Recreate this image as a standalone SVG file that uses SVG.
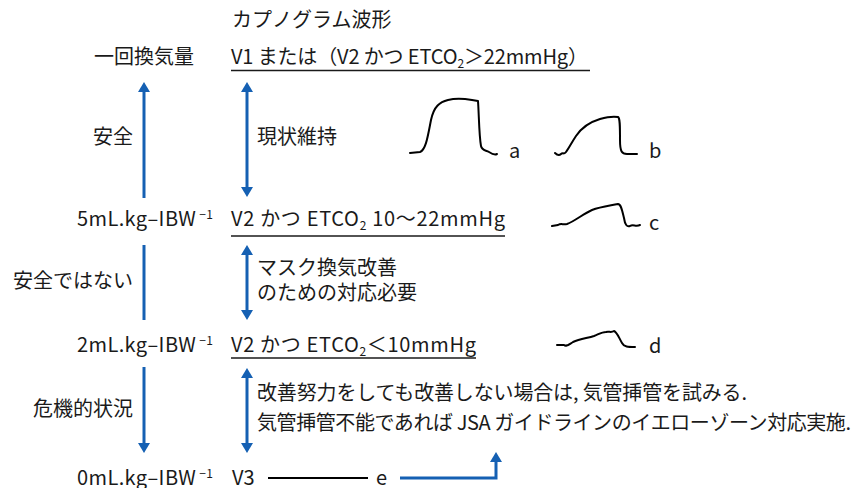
<svg xmlns="http://www.w3.org/2000/svg" width="858" height="488" viewBox="0 0 858 488">
<style>
text{font-family:"Noto Sans CJK JP","Noto Sans",sans-serif;font-size:20px;fill:#1a1a1a}
.r{text-anchor:end}
.m{text-anchor:middle}
.sub{font-size:12px}
.sup{font-size:12px}
.blue{stroke:#1560b3;stroke-width:3;fill:none}
.ul{stroke:#1a1a1a;stroke-width:1.5}
.wave{stroke:#000;stroke-width:2;fill:none;stroke-linejoin:round;stroke-linecap:round}
</style>
<defs>
<marker id="ah" viewBox="0 -6 10 12" refX="0" refY="0" markerWidth="10" markerHeight="12" markerUnits="userSpaceOnUse" orient="auto-start-reverse">
<path d="M0,-6 L10,0 L0,6 z" fill="#1560b3"/>
</marker>
</defs>
<g id="title"><text x="232" y="27">カプノグラム波形</text></g>
<g id="level-v1">
<text class="m" x="144" y="64">一回換気量</text>
<text x="231" y="64" textLength="357" lengthAdjust="spacing">V1 または（V2 かつ ETCO<tspan class="sub" dy="4">2</tspan><tspan dy="-4">＞22mmHg）</tspan></text>
<line class="ul" x1="231" y1="70.5" x2="590" y2="70.5"/>
</g>
<g id="zone-safe">
<text class="r" x="133" y="144">安全</text>
<text x="257" y="144">現状維持</text>
</g>
<g id="level-5">
<text class="r" x="213" y="226" textLength="136" lengthAdjust="spacing">5mL.kg–IBW<tspan class="sup" dx="3" dy="-7">−1</tspan></text>
<text x="231" y="226" textLength="274" lengthAdjust="spacing">V2 かつ ETCO<tspan class="sub" dy="4">2</tspan><tspan dy="-4"> 10〜22mmHg</tspan></text>
<line class="ul" x1="231" y1="236" x2="505" y2="236"/>
</g>
<g id="zone-unsafe">
<text class="r" x="133" y="288">安全ではない</text>
<text x="257" y="275">マスク換気改善</text>
<text x="257" y="300">のための対応必要</text>
</g>
<g id="level-2">
<text class="r" x="213" y="352" textLength="136" lengthAdjust="spacing">2mL.kg–IBW<tspan class="sup" dx="3" dy="-7">−1</tspan></text>
<text x="231" y="352" textLength="245" lengthAdjust="spacing">V2 かつ ETCO<tspan class="sub" dy="4">2</tspan><tspan dy="-4">＜10mmHg</tspan></text>
<line class="ul" x1="231" y1="358" x2="476" y2="358"/>
</g>
<g id="zone-crisis">
<text class="r" x="133" y="416">危機的状況</text>
<text x="257" y="400" textLength="490" lengthAdjust="spacing">改善努力をしても改善しない場合は, 気管挿管を試みる.</text>
<text x="257" y="430" textLength="594" lengthAdjust="spacing">気管挿管不能であれば JSA ガイドラインのイエローゾーン対応実施.</text>
</g>
<g id="level-0">
<text class="r" x="213" y="485" textLength="136" lengthAdjust="spacing">0mL.kg–IBW<tspan class="sup" dx="3" dy="-7">−1</tspan></text>
<text x="232" y="485">V3</text>
<text x="376" y="485">e</text>
</g>
<g id="waveforms">
<path class="wave" d="M410,153 L420,152 C426,150 428,135 431,120 C434,106 440,102 448,100 C456,98 466,99 472,100 L478,101 C479,115 479,135 481,146 C482,151 486,150 489,152 C492,154 495,155 497,154"/>
<text x="509" y="158">a</text>
<path class="wave" d="M555,153 C557,155 559,156 561,154 C563,152 564,155 566,152 C569,148 572,142 576,136 C582,127 590,122 600,119 C607,117 613,116 618,117 C620,118 620,125 620,140 C620,152 622,154 627,154 L637,154"/>
<text x="649" y="158">b</text>
<path class="wave" d="M552,226 L558,225 C561,223 563,225 567,224 C575,221 583,214 592,210 C600,207 608,206 618,204 C621,204 622,210 624,218 C625,225 627,227 630,226 C633,224 636,227 640,225"/>
<text x="649" y="230">c</text>
<path class="wave" d="M557,345 L564,345 C566,347 568,345 573,342 C580,339 588,338 594,336 C599,334 602,332 606,332 C609,331 611,333 614,331 C617,332 619,338 622,343 C624,347 628,347 635,347"/>
<text x="649" y="353">d</text>
</g>
<g id="connectors">
<path class="blue" d="M144,198 L144,92" marker-end="url(#ah)"/>
<path class="blue" d="M247,92 L247,187" marker-start="url(#ah)" marker-end="url(#ah)"/>
<path class="blue" d="M144,245 L144,320"/>
<path class="blue" d="M247,255 L247,310" marker-start="url(#ah)" marker-end="url(#ah)"/>
<path class="blue" d="M144,367 L144,443" marker-end="url(#ah)"/>
<path class="blue" d="M247,378 L247,443" marker-start="url(#ah)" marker-end="url(#ah)"/>
<line x1="268" y1="478" x2="368" y2="478" stroke="#000" stroke-width="2"/>
<path class="blue" d="M400,478 L496,478 L496,462" marker-end="url(#ah)"/>
</g>
</svg>
